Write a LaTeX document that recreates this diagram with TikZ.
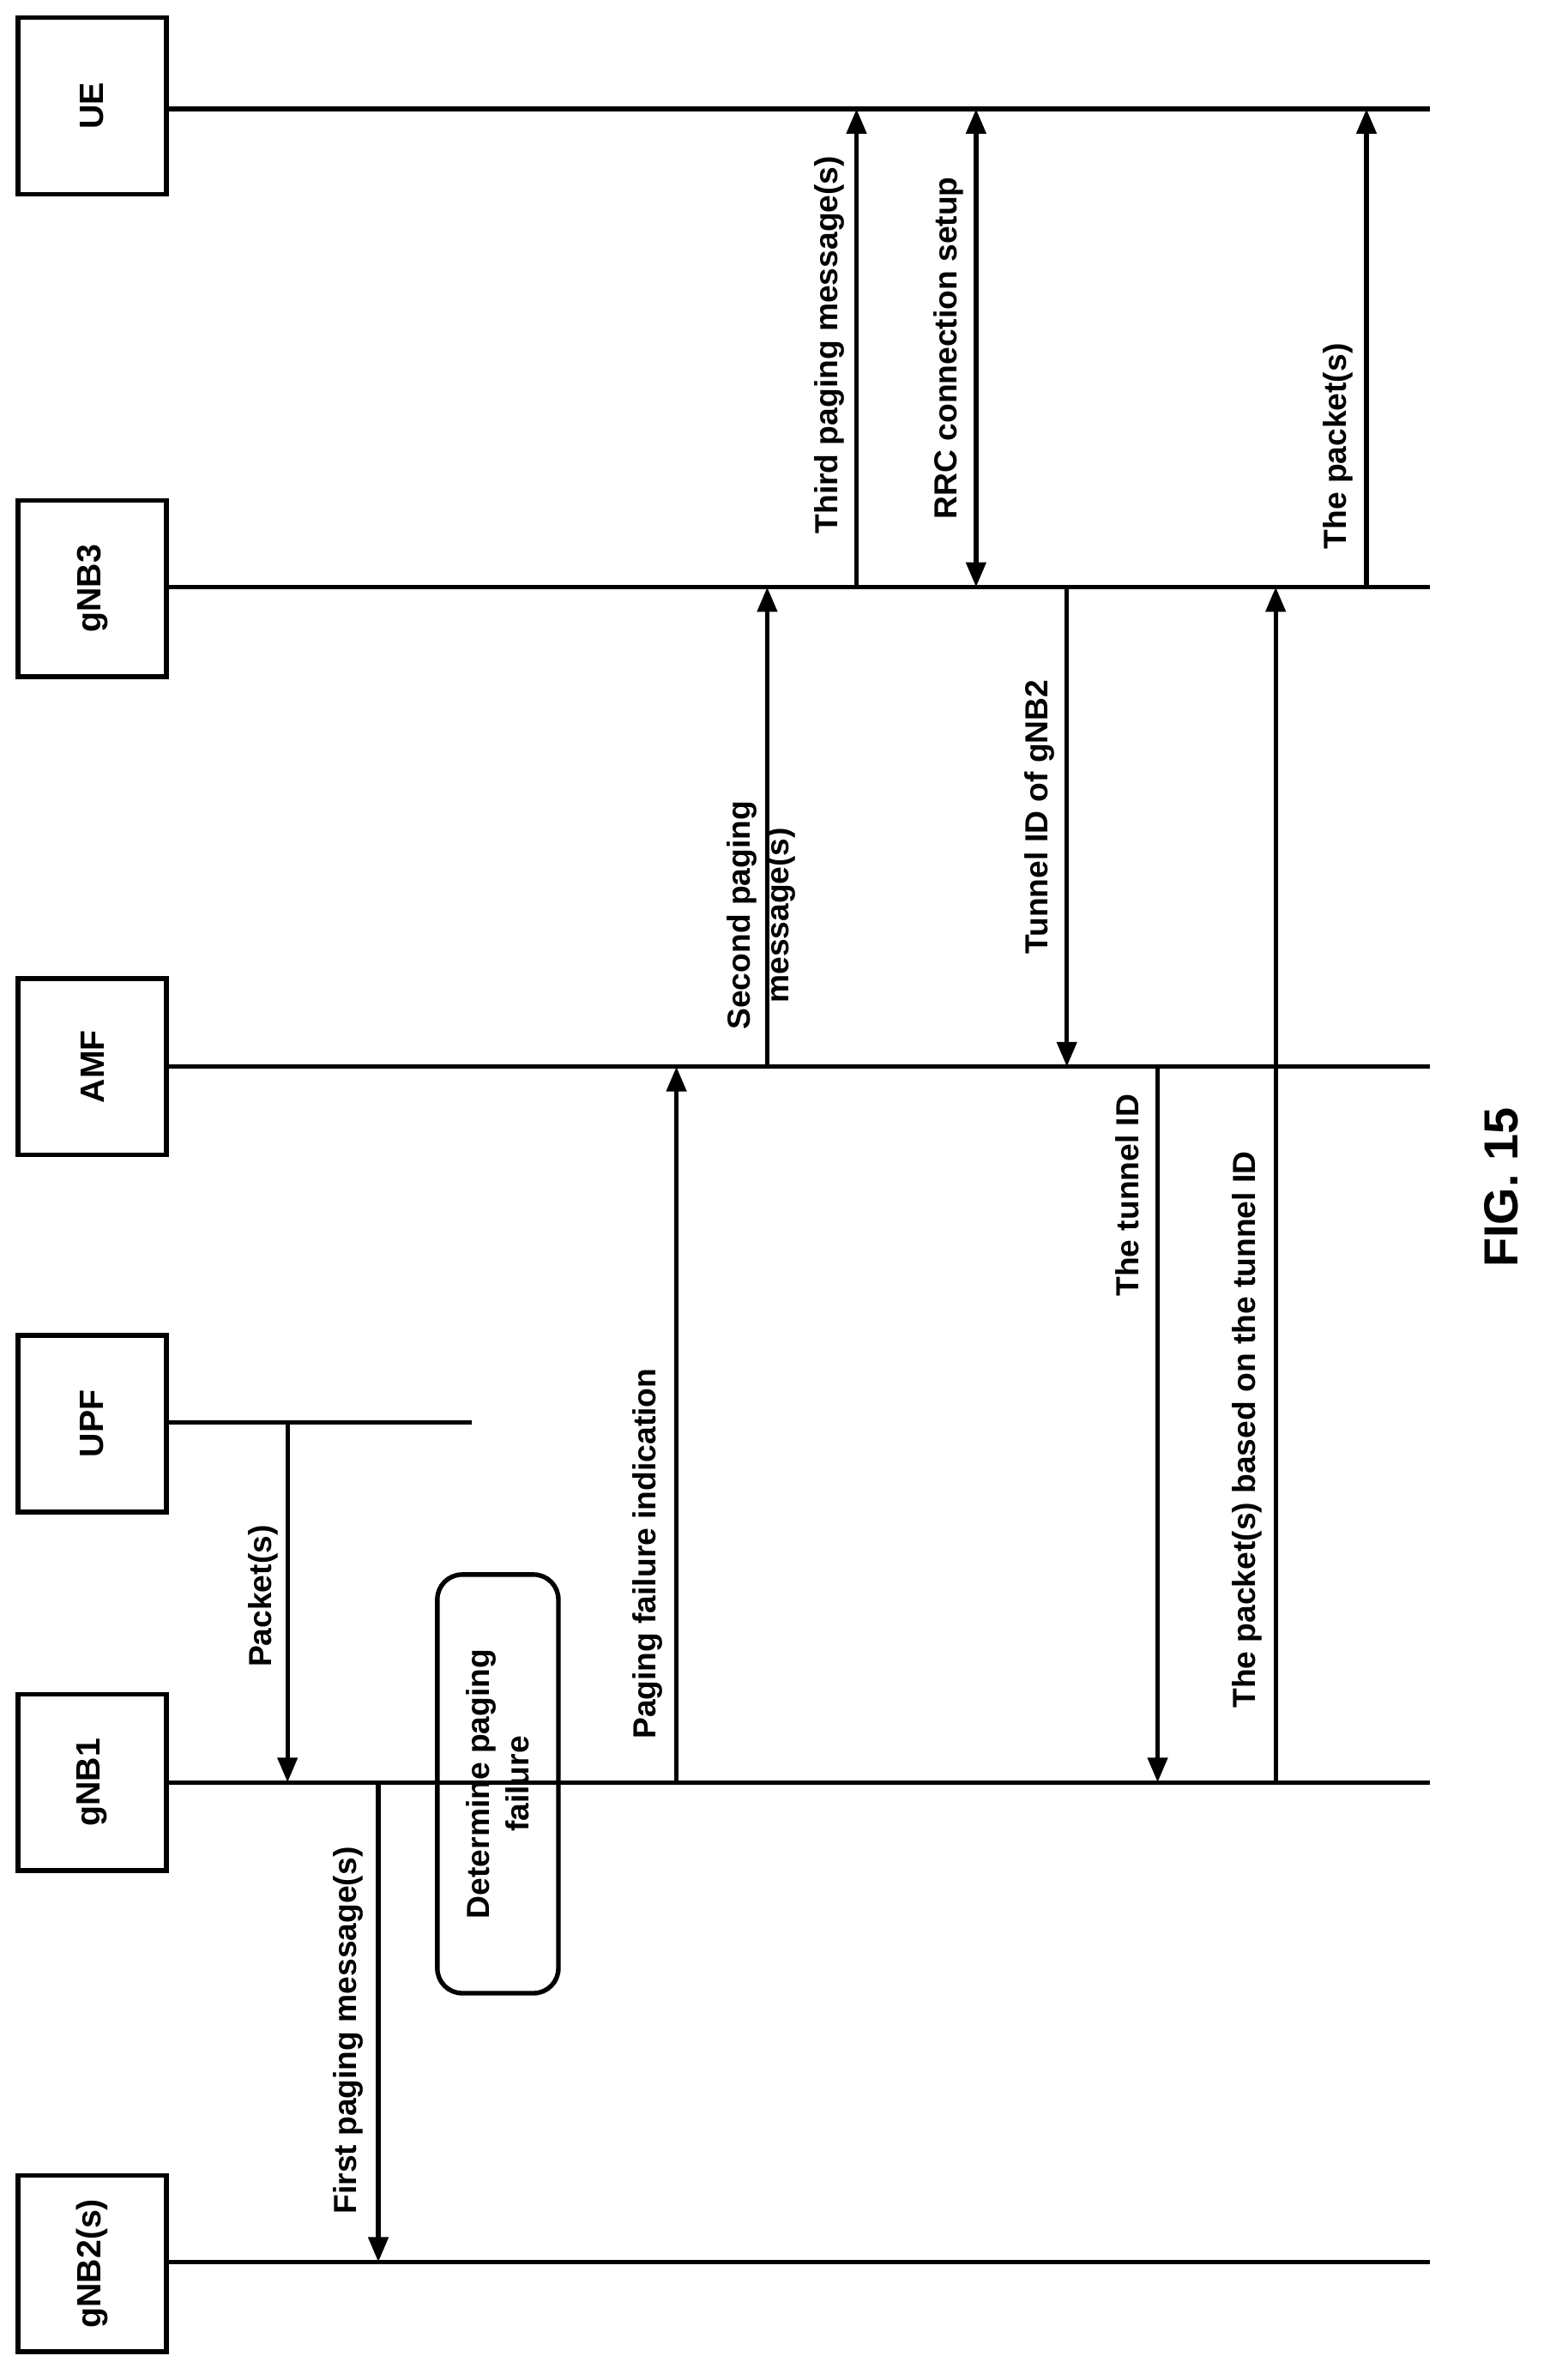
\documentclass[tikz,border=0pt]{standalone}
\usepackage{fontspec}
\setmainfont{Liberation Sans}
\usetikzlibrary{arrows.meta,positioning}
\tikzset{
  ent/.style={draw,line width=2.6pt,minimum width=2.94cm,minimum height=3.5cm,font=\bfseries\fontsize{19}{22}\selectfont},
  lbl/.style={rotate=90,font=\bfseries\fontsize{18}{22}\selectfont,align=center},
  life/.style={line width=2.6pt},
  msg/.style={line width=2.6pt,-{Triangle[length=14pt,width=11pt]}},
}
\begin{document}
\begin{tikzpicture}[x=0.03cm,y=-0.03cm]
	\useasboundingbox (0,0) rectangle (1024,1573);
	% entities
	\node[ent] (ue) at (61,70) {\rotatebox{90}{UE}};
	\node[ent] (gnbt) at (61,389) {\rotatebox{90}{gNB3}};
	\node[ent] (amf) at (61,705) {\rotatebox{90}{AMF}};
	\node[ent] (upf) at (61,941) {\rotatebox{90}{UPF}};
	\node[ent] (gnba) at (61,1178) {\rotatebox{90}{gNB1}};
	\node[ent] (gnbb) at (61,1496) {\rotatebox{90}{gNB2(s)}};

	% lifelines
	\coordinate (ueE) at (945,72);
	\coordinate (gnbtE) at (945,388);
	\coordinate (amfE) at (945,705);
	\coordinate (upfE) at (312,940);
	\coordinate (gnbaE) at (945,1178);
	\coordinate (gnbbE) at (945,1495);
	\draw[life] (ue.east|-ueE) -- (ueE);
	\draw[life] (gnbt.east|-gnbtE) -- (gnbtE);
	\draw[life] (amf.east|-amfE) -- (amfE);
	\draw[life] (upf.east|-upfE) -- (upfE);
	\draw[life] (gnba.east|-gnbaE) -- (gnbaE);
	\draw[life] (gnbb.east|-gnbbE) -- (gnbbE);

	% messages
	\draw[msg] (190,940) -- (190,1178);
	\node[lbl] at (174,1055) {Packet(s)};
	\draw[msg] (250,1178) -- (250,1495);
	\node[lbl] at (230,1342) {First paging message(s)};
	\node[draw,line width=2.6pt,rounded corners=14pt,minimum width=8.3cm,minimum height=2.4cm,rotate=90,font=\bfseries\fontsize{18}{22}\selectfont,align=center] (det) at (329,1179) {Determine paging\\failure};
	\draw[msg] (447,1178) -- (447,705);
	\node[lbl] at (428,1027) {Paging failure indication};
	\draw[msg] (507,705) -- (507,388);
	\node[lbl] at (503,605) {Second paging\\message(s)};
	\draw[msg] (566,388) -- (566,72);
	\node[lbl] at (548,228) {Third paging message(s)};
	\draw[line width=2.6pt,{Triangle[length=14pt,width=11pt]}-{Triangle[length=14pt,width=11pt]}] (645,388) -- (645,72);
	\node[lbl] at (627,230) {RRC connection setup};
	\draw[msg] (705,388) -- (705,705);
	\node[lbl] at (687,540) {Tunnel ID of gNB2};
	\draw[msg] (765,705) -- (765,1178);
	\node[lbl] at (745,790) {The tunnel ID};
	\draw[msg] (843,1178) -- (843,388);
	\node[lbl] at (824,945) {The packet(s) based on the tunnel ID};
	\draw[msg] (903,388) -- (903,72);
	\node[lbl] at (884,295) {The packet(s)};

	\node[rotate=90,font=\bfseries\fontsize{27}{30}\selectfont] (fig) at (992,785) {FIG. 15};
\end{tikzpicture}
\end{document}
